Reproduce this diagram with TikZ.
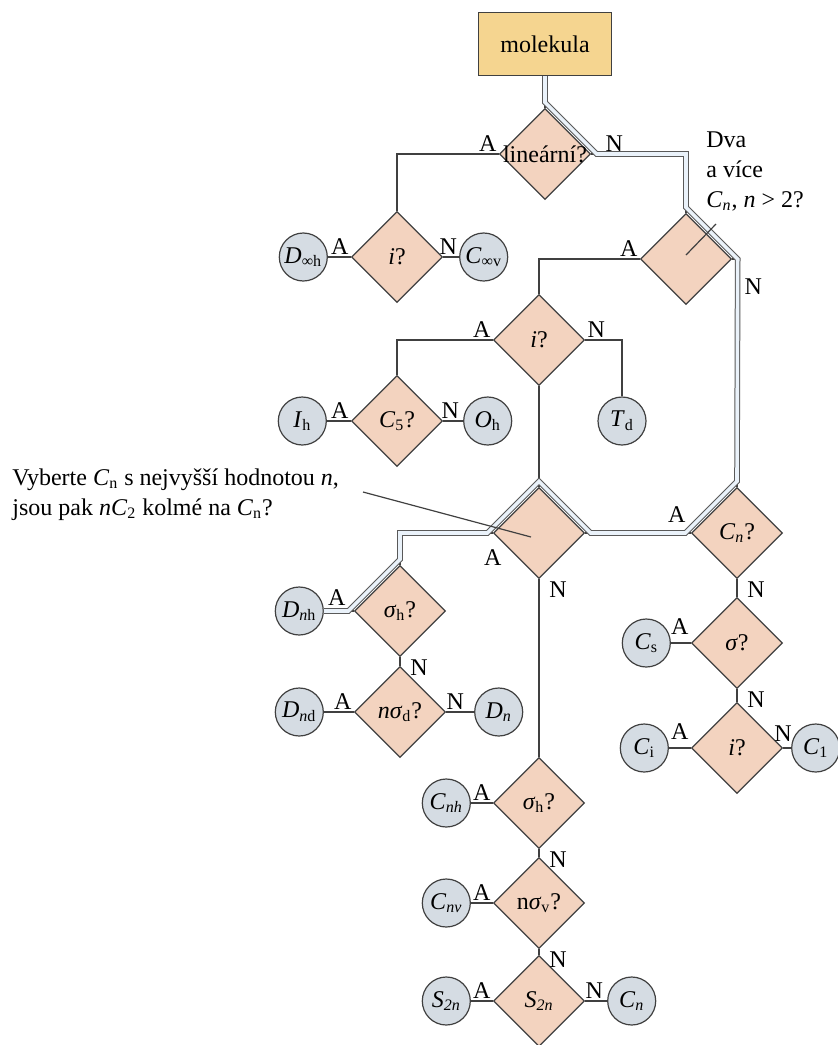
\documentclass[tikz,border=0pt]{standalone}
\usepackage{fontspec}
\setmainfont{Liberation Serif}
\usepackage{tikz}
\usetikzlibrary{shapes.geometric,positioning}

\definecolor{boxfill}{HTML}{F5D590}
\definecolor{askfill}{HTML}{F3D3BF}
\definecolor{endfill}{HTML}{D5DCE3}
\definecolor{linegray}{HTML}{404040}
\definecolor{routefill}{HTML}{EAF2FA}

\newcommand{\sgrp}[2]{\textit{#1}\textsubscript{#2}}

\begin{document}
\begin{tikzpicture}
    [x=0.5pt,y=-0.5pt,font=\fontsize{12}{15}\selectfont,
        ask/.style={diamond,draw=linegray,fill=askfill,line width=0.6pt,minimum width=45.5pt,minimum height=45.5pt,inner sep=0pt},
        res/.style={circle,draw=linegray,fill=endfill,line width=0.6pt,minimum size=24pt,inner sep=0pt},
        topbox/.style={rectangle,draw=linegray,fill=boxfill,line width=0.6pt,minimum width=66.5pt,minimum height=31.5pt},
        wire/.style={draw=linegray,line width=0.6pt},
        route/.style={draw=black!65,line width=0.5pt,double=routefill,double distance=1.8pt},
        lab/.style={inner sep=1pt},
        elbow/.style={to path={-| (\tikztotarget)}}]

    \useasboundingbox (0,0) rectangle (838,1045);

    % questions
    \node[topbox] (molekula) at (545,44) {molekula};
    \node[ask] (lin) at (545,154) {\makebox[0pt]{lineární?}};
    \node[ask] (iA) at (397,257) {\textit{i}?};
    \node[ask] (dva) at (686,259) {};
    \node[ask] (iB) at (539,340) {\textit{i}?};
    \node[ask] (C5) at (397,421) {\sgrp{C}{5}?};
    \node[ask] (big) at (539,533) {};
    \node[ask] (Cn) at (737,533) {\sgrp{C}{\textit{n}}?};
    \node[ask] (sig) at (737,643) {\textit{σ}?};
    \node[ask] (i3) at (737,748) {\textit{i}?};
    \node[ask] (sigh1) at (400,611) {\textit{σ}\textsubscript{h}?};
    \node[ask] (nsd) at (400,712) {\textit{nσ}\textsubscript{d}?};
    \node[ask] (sigh2) at (539,803) {\textit{σ}\textsubscript{h}?};
    \node[ask] (nsv) at (539,903) {n\textit{σ}\textsubscript{v}?};
    \node[ask] (S2nd) at (539,1001) {\sgrp{S}{\textit{2n}}};

    % point groups
    \node[res, left=11.5pt of iA] (Dinfh) {\sgrp{D}{∞h}};
    \node[res, right=8pt of iA] (Cinfv) {\sgrp{C}{∞v}};
    \node[res, left=12pt of C5] (Ih) {\sgrp{I}{h}};
    \node[res, right=10pt of C5] (Oh) {\sgrp{O}{h}};
    \node[res] (Td) at (622,421) {\sgrp{T}{d}};
    \node[res, left=10pt of sig] (Cs) {\sgrp{C}{s}};
    \node[res, left=11pt of i3] (Ci) {\sgrp{C}{i}};
    \node[res, right=4pt of i3] (C1) {\sgrp{C}{1}};
    \node[res, left=15pt of sigh1] (Dnh) {\sgrp{D}{\textit{n}h}};
    \node[res, left=15pt of nsd] (Dnd) {\sgrp{D}{\textit{n}d}};
    \node[res, right=14pt of nsd] (Dn) {\sgrp{D}{\textit{n}}};
    \node[res, left=11pt of sigh2] (Cnh) {\sgrp{C}{\textit{nh}}};
    \node[res, left=11pt of nsv] (Cnv) {\sgrp{C}{\textit{nv}}};
    \node[res, left=11pt of S2nd] (S2n) {\sgrp{S}{\textit{2n}}};
    \node[res, right=11pt of S2nd] (Cnb) {\sgrp{C}{\textit{n}}};

    \path[wire]
    (molekula) edge (lin)
    (lin.west) edge[elbow] (iA.north)
    (lin.east) edge[elbow] (dva.north)
    (iA.west) edge (Dinfh)
    (iA.east) edge (Cinfv)
    (dva.west) edge[elbow] (iB.north)
    (dva.east) edge[elbow] (Cn.north)
    (iB.west) edge[elbow] (C5.north)
    (iB.east) edge[elbow] (Td.north)
    (iB.south) edge (big.north)
    (C5.west) edge (Ih)
    (C5.east) edge (Oh)
    (big.east) edge (Cn.west)
    (big.west) edge[elbow] (sigh1.north)
    (big.south) edge (sigh2.north)
    (Cn.south) edge (sig.north)
    (sig.west) edge (Cs)
    (sig.south) edge (i3.north)
    (i3.west) edge (Ci)
    (i3.east) edge (C1)
    (sigh1.west) edge (Dnh)
    (sigh1.south) edge (nsd.north)
    (nsd.west) edge (Dnd)
    (nsd.east) edge (Dn)
    (sigh2.west) edge (Cnh)
    (sigh2.south) edge (nsv.north)
    (nsv.west) edge (Cnv)
    (nsv.south) edge (S2nd.north)
    (S2nd.west) edge (S2n)
    (S2nd.east) edge (Cnb)
    ;

    % highlighted way
    \draw[route] (molekula.south) -- ([yshift=2.8pt]lin.north) -- ([xshift=2.8pt]lin.east)
        -- (dva.north |- lin.east) -- ([yshift=2.8pt]dva.north) -- ([xshift=2.8pt]dva.east)
        -- ([yshift=2.8pt]Cn.north) -- ([xshift=-2.8pt]Cn.west) -- ([xshift=2.8pt]big.east)
        -- ([yshift=2.8pt]big.north) -- ([xshift=-2.8pt]big.west) -- (sigh1.north |- big.west)
        -- ([yshift=2.8pt]sigh1.north) -- ([xshift=-2.8pt]sigh1.west) -- (Dnh.east);

    % A / N
    \node[lab, above left=0pt of lin.west] (linA) {A};
    \node[lab, above right=0pt and 6pt of lin.east] (linN) {N};
    \node[lab, above left=0pt of iA.west] (iAA) {A};
    \node[lab, above right=0pt and -3pt of iA.east] (iAN) {N};
    \node[lab, above left=0pt of dva.west] (dvaA) {A};
    \node[lab, anchor=west] (dvaN) at ([xshift=5pt,yshift=-14pt]dva.east) {N};
    \node[lab, above left=0pt of iB.west] (iBA) {A};
    \node[lab, above right=0pt of iB.east] (iBN) {N};
    \node[lab, above left=0pt of C5.west] (C5A) {A};
    \node[lab, above right=0pt and -2pt of C5.east] (C5N) {N};
    \node[lab, below=7pt of big.west] (bigA) {A};
    \node[lab, below right=0pt and 4pt of big.south] (bigN) {N};
    \node[lab, above left=4pt and 1.5pt of Cn.west] (CnA) {A};
    \node[lab, below right=0pt and 4pt of Cn.south] (CnN) {N};
    \node[lab, above left=3pt and 0pt of sig.west] (sigA) {A};
    \node[lab, below right=0pt and 4pt of sig.south] (sigN) {N};
    \node[lab, above left=3pt and 0pt of i3.west] (i3A) {A};
    \node[lab, above=2pt of i3.east] (i3N) {N};
    \node[lab, above left=1.5pt and 3pt of sigh1.west] (sigh1A) {A};
    \node[lab, below right=0pt and 4pt of sigh1.south] (sigh1N) {N};
    \node[lab, above left=0pt of nsd.west] (nsdA) {A};
    \node[lab, above right=0pt and -1pt of nsd.east] (nsdN) {N};
    \node[lab, above left=0pt of sigh2.west] (sigh2A) {A};
    \node[lab, below right=0pt and 4pt of sigh2.south] (sigh2N) {N};
    \node[lab, above left=0pt of nsv.west] (nsvA) {A};
    \node[lab, below right=0pt and 4pt of nsv.south] (nsvN) {N};
    \node[lab, above left=0pt of S2nd.west] (S2ndA) {A};
    \node[lab, above right=0pt and -1pt of S2nd.east] (S2ndN) {N};

    % notes
    \node[anchor=north west, align=left, inner sep=0pt] (dvaNote) at (706,131)
        {Dva\\a více\\\sgrp{C}{\textit{n}}, \textit{n} > 2?};
    \coordinate (dvaTip) at (716,224);
    \draw[wire] (dvaTip) -- ([yshift=2pt]dva.center);

    \node[anchor=north west, align=left, inner sep=0pt] (pickNote) at (12,468)
        {Vyberte \sgrp{C}{n} s nejvyšší hodnotou \textit{n},\\jsou pak \textit{n}\sgrp{C}{2} kolmé na \sgrp{C}{n}?};
    \coordinate (pickTip) at (363,492);
    \draw[wire] (pickTip) -- ([xshift=-4pt,yshift=-2pt]big.center);
\end{tikzpicture}
\end{document}
